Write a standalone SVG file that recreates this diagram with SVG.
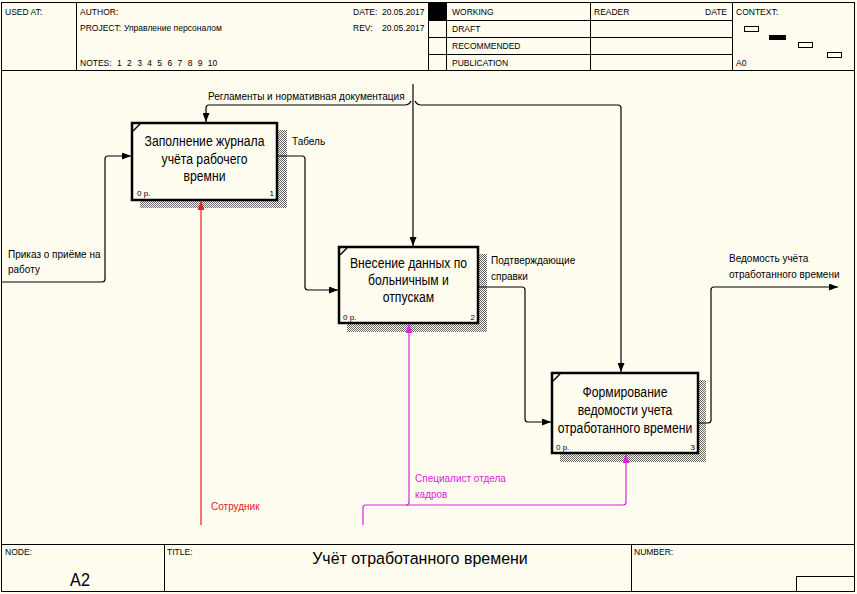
<svg xmlns="http://www.w3.org/2000/svg" width="857" height="594" viewBox="0 0 857 594">
<style>
.bg{fill:#FFFCF0}
.fr{fill:none;stroke:#000;stroke-width:1}
.h{font-family:"Liberation Sans",Arial,sans-serif;font-size:8.5px;fill:#000}
.bt{font-family:"Liberation Sans",Arial,sans-serif;font-size:14px;fill:#000;text-anchor:middle}
.lb{font-family:"Liberation Sans",Arial,sans-serif;font-size:10px;fill:#000}
.sm{font-family:"Liberation Sans",Arial,sans-serif;font-size:8px;fill:#000}
.box{fill:#FFFCF0;stroke:#000;stroke-width:2.5}
.sh{fill:url(#hatch)}
.c{fill:none;stroke:#000;stroke-width:1.2}
.red{fill:none;stroke:#E02020;stroke-width:1.2}
.mag{fill:none;stroke:#E020E0;stroke-width:1.2}
</style>
<defs>
<pattern id="hatch" width="2" height="2" patternUnits="userSpaceOnUse">
<rect x="0" y="0" width="1" height="1" fill="#666"/>
<rect x="1" y="1" width="1" height="1" fill="#666"/>
</pattern>
<marker id="ab" markerWidth="9" markerHeight="7" refX="9" refY="3.5" orient="auto" markerUnits="userSpaceOnUse">
<path d="M0,0 L9,3.5 L0,7 Z" fill="#000"/>
</marker>
<marker id="ar" markerWidth="9" markerHeight="7" refX="9" refY="3.5" orient="auto" markerUnits="userSpaceOnUse">
<path d="M0,0 L9,3.5 L0,7 Z" fill="#E02020"/>
</marker>
<marker id="am" markerWidth="9" markerHeight="7" refX="9" refY="3.5" orient="auto" markerUnits="userSpaceOnUse">
<path d="M0,0 L9,3.5 L0,7 Z" fill="#E020E0"/>
</marker>
</defs>
<rect class="bg" x="0" y="0" width="857" height="594"/>

<g id="frame">
<rect class="fr" x="1.5" y="2.5" width="853" height="589"/>
<line class="fr" x1="1.5" y1="70.5" x2="854.5" y2="70.5"/>
<line class="fr" x1="76.5" y1="2.5" x2="76.5" y2="70.5"/>
<line class="fr" x1="428.5" y1="2.5" x2="428.5" y2="70.5"/>
<line class="fr" x1="446.5" y1="2.5" x2="446.5" y2="70.5"/>
<line class="fr" x1="590.5" y1="2.5" x2="590.5" y2="70.5"/>
<line class="fr" x1="732.5" y1="2.5" x2="732.5" y2="70.5"/>
<line class="fr" x1="428.5" y1="20.5" x2="732.5" y2="20.5"/>
<line class="fr" x1="428.5" y1="37.5" x2="732.5" y2="37.5"/>
<line class="fr" x1="428.5" y1="54.5" x2="732.5" y2="54.5"/>
<rect x="429" y="3" width="17" height="17" fill="#000"/>
<text class="h" x="5" y="15">USED AT:</text>
<text class="h" x="80" y="15">AUTHOR:</text>
<text class="h" x="80" y="31">PROJECT:</text>
<text class="h" x="124" y="31">Управление персоналом</text>
<text class="h" x="80" y="66" word-spacing="3">NOTES: 1 2 3 4 5 6 7 8 9 10</text>
<text class="h" x="353" y="15">DATE:</text>
<text class="h" x="382" y="15">20.05.2017</text>
<text class="h" x="353" y="31">REV:</text>
<text class="h" x="382" y="31">20.05.2017</text>
<text class="h" x="452" y="15">WORKING</text>
<text class="h" x="452" y="32">DRAFT</text>
<text class="h" x="452" y="49">RECOMMENDED</text>
<text class="h" x="452" y="66">PUBLICATION</text>
<text class="h" x="594" y="15">READER</text>
<text class="h" x="705" y="15">DATE</text>
<text class="h" x="736" y="15">CONTEXT:</text>
<text class="h" x="736" y="66">A0</text>
<rect class="fr" x="744.5" y="26.5" width="14" height="5"/>
<rect x="769" y="35" width="17" height="5" fill="#000"/>
<rect class="fr" x="798.5" y="42.5" width="14" height="5"/>
<rect class="fr" x="827.5" y="52.5" width="14" height="5"/>
<line class="fr" x1="1.5" y1="544.5" x2="854.5" y2="544.5"/>
<line class="fr" x1="164.5" y1="544.5" x2="164.5" y2="591.5"/>
<line class="fr" x1="631.5" y1="544.5" x2="631.5" y2="591.5"/>
<rect class="fr" x="796.5" y="576.5" width="58" height="15"/>
<text class="h" x="5" y="555">NODE:</text>
<text class="h" x="167" y="555">TITLE:</text>
<text class="h" x="634" y="555">NUMBER:</text>
<text x="80" y="586" font-family="Liberation Sans,Arial,sans-serif" font-size="18" text-anchor="middle" transform="translate(80,0) scale(0.9,1) translate(-80,0)">A2</text>
<text x="420" y="564" font-family="Liberation Sans,Arial,sans-serif" font-size="17" text-anchor="middle" transform="translate(420,0) scale(0.94,1) translate(-420,0)">Учёт отработанного времени</text>
</g>

<g id="node1">
<rect class="sh" x="140" y="130" width="147" height="78"/>
<rect class="box" x="132" y="123" width="145" height="77"/>
<path d="M133,131 L140,124" stroke="#000" stroke-width="1.5"/>
<g transform="translate(204.5,0) scale(0.87,1)">
<text class="bt" x="0" y="146">Заполнение журнала</text>
<text class="bt" x="0" y="164">учёта рабочего</text>
<text class="bt" x="0" y="181">времни</text>
</g>
<text class="sm" x="137" y="196">0 р.</text>
<text class="sm" x="274" y="196" text-anchor="end">1</text>
</g>

<g id="node2">
<rect class="sh" x="347" y="254" width="140" height="78"/>
<rect class="box" x="339" y="247" width="139" height="76"/>
<path d="M340,255 L347,248" stroke="#000" stroke-width="1.5"/>
<g transform="translate(408.5,0) scale(0.87,1)">
<text class="bt" x="0" y="268">Внесение данных по</text>
<text class="bt" x="0" y="285">больничным и</text>
<text class="bt" x="0" y="302">отпускам</text>
</g>
<text class="sm" x="343" y="320">0 р.</text>
<text class="sm" x="475" y="320" text-anchor="end">2</text>
</g>

<g id="node3">
<rect class="sh" x="560" y="380" width="146" height="82"/>
<rect class="box" x="552" y="373" width="146" height="80"/>
<path d="M553,381 L560,374" stroke="#000" stroke-width="1.5"/>
<g transform="translate(625,0) scale(0.87,1)">
<text class="bt" x="0" y="397">Формирование</text>
<text class="bt" x="0" y="415">ведомости учета</text>
<text class="bt" x="0" y="433">отработанного времени</text>
</g>
<text class="sm" x="556" y="450">0 р.</text>
<text class="sm" x="695" y="450" text-anchor="end">3</text>
</g>

<g id="connectors">
<path class="c" d="M2,282 H102 Q105,282 105,279 V159 Q105,156 108,156 H131" marker-end="url(#ab)"/>
<path class="c" d="M278,156 H302 Q305,156 305,159 V287 Q305,290 308,290 H338" marker-end="url(#ab)"/>
<path class="c" d="M479,287 H522 Q525,287 525,290 V419 Q525,422 528,422 H551" marker-end="url(#ab)"/>
<path class="c" d="M699,423 H708 Q711,423 711,420 V290 Q711,287 714,287 H838" marker-end="url(#ab)"/>
<path class="c" d="M413,84 V246" marker-end="url(#ab)"/>
<path class="c" d="M411,101 Q409,105 405,105 H209 Q206,105 206,108 V122" marker-end="url(#ab)"/>
<path class="c" d="M415,101 Q417,105 421,105 H618 Q621,105 621,108 V372" marker-end="url(#ab)"/>
<path class="red" d="M201,525 V201" marker-end="url(#ar)"/>
<path class="mag" d="M363,525 V508 Q363,505 366,505 H623 Q626,505 626,502 V454" marker-end="url(#am)"/>
<path class="mag" d="M406,505 Q409,505 409,502 V324" marker-end="url(#am)"/>
<text class="lb" x="208" y="100">Регламенты и нормативная документация</text>
<text class="lb" x="292" y="145">Табель</text>
<text class="lb" x="8" y="258">Приказ о приёме на</text>
<text class="lb" x="8" y="273">работу</text>
<text class="lb" x="491" y="264">Подтверждающие</text>
<text class="lb" x="491" y="280">справки</text>
<text class="lb" x="729" y="262">Ведомость учёта</text>
<text class="lb" x="729" y="278">отработанного времени</text>
<text class="lb" x="211" y="510" style="fill:#E02020">Сотрудник</text>
<text class="lb" x="415" y="482" style="fill:#E020E0">Специалист отдела</text>
<text class="lb" x="415" y="498" style="fill:#E020E0">кадров</text>
</g>
</svg>
